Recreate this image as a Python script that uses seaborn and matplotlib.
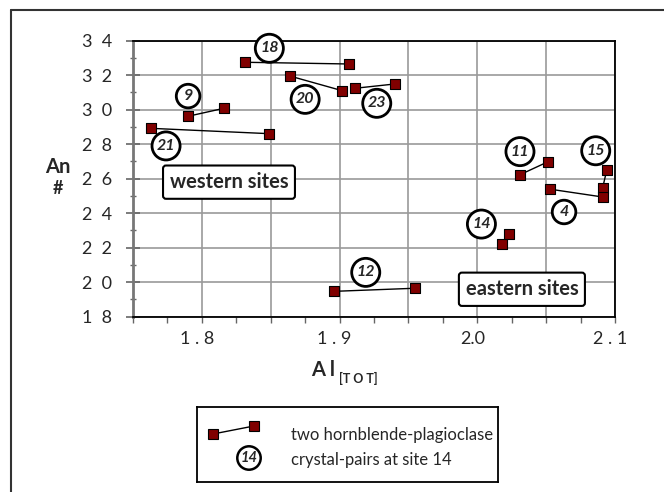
import matplotlib
matplotlib.use("Agg")
import matplotlib.pyplot as plt
import matplotlib.transforms as mtrans
import seaborn as sns
import pandas as pd
import numpy as np
from matplotlib.ticker import MultipleLocator
from matplotlib.lines import Line2D

# ---- data ----
site = [18, 18, 20, 20, 23, 23, 9, 9, 21, 21, 11, 11, 15, 15, 4, 4, 14, 14, 12, 12]
al_tot = [1.831, 1.907, 1.864, 1.902, 1.911, 1.940, 1.790, 1.816, 1.763, 1.849,
          2.031, 2.051, 2.094, 2.091, 2.053, 2.091, 2.018, 2.023, 1.896, 1.955]
an_num = [32.75, 32.65, 31.95, 31.10, 31.24, 31.49, 29.62, 30.08, 28.92, 28.61,
          26.23, 26.97, 26.49, 25.46, 25.39, 24.94, 22.23, 22.79, 19.47, 19.65]

label_site = [18, 20, 23, 9, 21, 11, 15, 4, 14, 12]
label_x = [1.849, 1.875, 1.927, 1.790, 1.774, 2.031, 2.086, 2.063, 2.003, 1.919]
label_y = [33.56, 30.60, 30.37, 30.79, 27.90, 27.57, 27.62, 24.07, 23.37, 20.57]

region_text = ["western sites", "eastern sites"]
region_x = [1.8197, 2.0324]
region_y = [25.80, 19.59]

y_ticks = [18, 20, 22, 24, 26, 28, 30, 32, 34]
y_ticklabels = ["1  8", "2  0", "2  2", "2  4", "2  6", "2  8", "3  0", "3  2", "3  4"]
x_ticks = [1.8, 1.9, 2.0, 2.1]
x_ticklabels = ["1 . 8", "1 . 9", "2.0", "2 . 1"]

df = pd.DataFrame({"site": site, "al": al_tot, "an": an_num})

sns.set_style("white")
plt.rcParams["font.family"] = ["Lato", "DejaVu Sans"]

fig = plt.figure(figsize=(6.64, 4.92), dpi=100)
W, H = 664, 492
ax = fig.add_axes([133 / W, 1 - 316.7 / H, (615 - 133) / W, (316.7 - 40.7) / H])

# outer frame (left and top visible)
fig.add_artist(Line2D([11 / W, 11 / W], [0, 1 - 10 / H], transform=fig.transFigure,
                      color="#333333", lw=1.5))
fig.add_artist(Line2D([11 / W, 1], [1 - 10 / H, 1 - 10 / H], transform=fig.transFigure,
                      color="#333333", lw=1.5))

ax.set_xlim(1.75, 2.1)
ax.set_ylim(18, 34)

# grid
ax.xaxis.set_minor_locator(MultipleLocator(0.025))
ax.yaxis.set_minor_locator(MultipleLocator(1))
ax.grid(True, which="major", color="#9a9a9a", lw=1.2)
ax.set_axisbelow(True)

grid_x = np.arange(1.75, 2.1001, 0.05)
xt_labels = []
for v in grid_x:
    lab = ""
    for t, l in zip(x_ticks, x_ticklabels):
        if abs(v - t) < 1e-6:
            lab = l
    xt_labels.append(lab)
ax.set_xticks(grid_x)
ax.set_xticklabels(xt_labels, fontsize=13)
ax.set_yticks(y_ticks)
ax.set_yticklabels(y_ticklabels, fontsize=13)

ax.tick_params(axis="x", which="both", bottom=True, direction="out", length=4, width=1,
               pad=6, color="#666666")
ax.tick_params(axis="y", which="major", left=True, direction="inout", length=10, width=1.2,
               pad=10, color="#666666")
ax.tick_params(axis="y", which="minor", left=True, direction="inout", length=5, width=1,
               color="#666666")

off = mtrans.ScaledTranslation(-5 / 100, 0, fig.dpi_scale_trans)
for lab in ax.get_xticklabels():
    lab.set_transform(lab.get_transform() + off)

for s in ["top", "right", "bottom"]:
    ax.spines[s].set_visible(True)
    ax.spines[s].set_color("black")
    ax.spines[s].set_linewidth(1.3)
ax.spines["left"].set_color("#777777")
ax.spines["left"].set_linewidth(2)

# lines connecting pairs and markers
sns.lineplot(data=df, x="al", y="an", units="site", estimator=None, sort=False,
             color="black", lw=1, ax=ax, legend=False)
sns.scatterplot(data=df, x="al", y="an", marker="s", s=48, color="#800000",
                edgecolor="black", linewidth=0.8, ax=ax, legend=False, zorder=5)
ax.set_xlabel("")
ax.set_ylabel("")

circ = dict(boxstyle="circle,pad=0.3", fc="white", ec="black", lw=2)
for s_, x_, y_ in zip(label_site, label_x, label_y):
    ax.text(x_, y_, str(s_), fontsize=11.5, fontweight="bold", fontstyle="italic",
            ha="center", va="center", bbox=circ, zorder=6)

box = dict(boxstyle="round,pad=0.33,rounding_size=0.15", fc="white", ec="black", lw=1.5)
for t, x_, y_ in zip(region_text, region_x, region_y):
    ax.text(x_, y_, t, fontsize=14.5, fontweight="bold", ha="center", va="center",
            bbox=box, zorder=6)

# axis labels
fig.text(58 / W, 1 - 167 / H, "An", fontsize=14.5, fontweight="bold", ha="center", va="center")
fig.text(58 / W, 1 - 189 / H, "#", fontsize=13, fontweight="bold", ha="center", va="center")
fig.text(335 / W, 1 - 370 / H, "A l", fontsize=14.5, fontweight="bold", ha="right",
         va="center")
fig.text(339 / W, 1 - 378 / H, "[T O T]", fontsize=9, fontweight="bold", ha="left",
         va="center")

# legend box
lax = fig.add_axes([197 / W, 1 - 482 / H, (498 - 197) / W, (482 - 407) / H])
lax.set_xlim(0, 301)
lax.set_ylim(75, 0)
lax.set_xticks([])
lax.set_yticks([])
for s in lax.spines.values():
    s.set_visible(True)
    s.set_color("black")
    s.set_linewidth(1.3)
lax.plot([16, 57], [27, 19], color="black", lw=1)
lax.plot([16, 57], [27, 19], ls="none", marker="s", ms=7, mfc="#800000", mec="black", mew=0.8)
lax.text(52, 51, "14", fontsize=10.5, fontweight="bold", fontstyle="italic",
         ha="center", va="center",
         bbox=dict(boxstyle="circle,pad=0.22", fc="white", ec="black", lw=1.8))
lax.text(94, 28, "two hornblende-plagioclase", fontsize=12, ha="left", va="center")
lax.text(94, 53, "crystal-pairs at site 14", fontsize=12, ha="left", va="center")

fig.savefig("out.png", dpi=100)
